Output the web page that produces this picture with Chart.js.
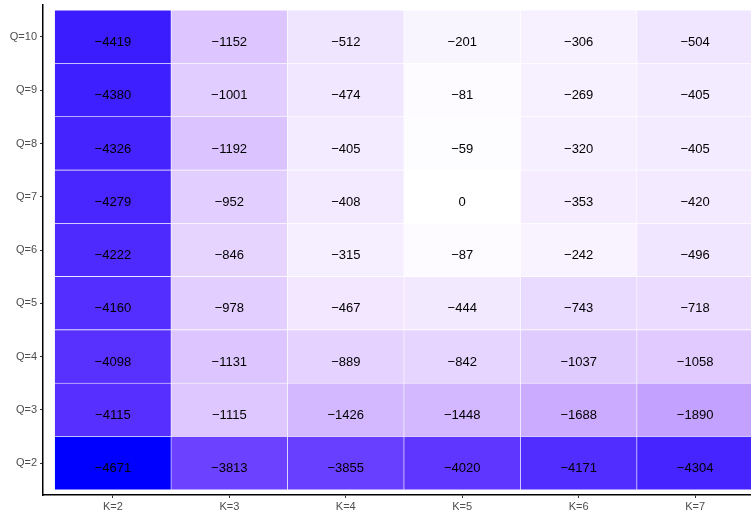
<!DOCTYPE html>
<html>
<head>
<meta charset="utf-8">
<script src="https://cdn.jsdelivr.net/npm/chart.js@4"></script>
<style>
  html, body { margin: 0; padding: 0; background: #fff; overflow: hidden; }
  #wrap { width: 765px; height: 510px; }
</style>
</head>
<body>
<div id="wrap"><canvas id="heat"></canvas></div>
<script>
// columns and rows
const kValues = [2, 3, 4, 5, 6, 7];
const qValues = [2, 3, 4, 5, 6, 7, 8, 9, 10];

// one row per Q, values for K=2..7
const rowQ2  = [-4671, -3813, -3855, -4020, -4171, -4304];
const rowQ3  = [-4115, -1115, -1426, -1448, -1688, -1890];
const rowQ4  = [-4098, -1131, -889, -842, -1037, -1058];
const rowQ5  = [-4160, -978, -467, -444, -743, -718];
const rowQ6  = [-4222, -846, -315, -87, -242, -496];
const rowQ7  = [-4279, -952, -408, 0, -353, -420];
const rowQ8  = [-4326, -1192, -405, -59, -320, -405];
const rowQ9  = [-4380, -1001, -474, -81, -269, -405];
const rowQ10 = [-4419, -1152, -512, -201, -306, -504];

const rows = [rowQ2, rowQ3, rowQ4, rowQ5, rowQ6, rowQ7, rowQ8, rowQ9, rowQ10];

const lowest = Math.min(...rows.flat());

// white -> blue, blended in Lab like ggplot does
function labToRgb(L, a, b) {
    const fy = (L + 16) / 116, fx = fy + a / 500, fz = fy - b / 200;
    const inv = t => t > 6 / 29 ? t * t * t : 3 * (6 / 29) * (6 / 29) * (t - 4 / 29);
    const X = 0.95047 * inv(fx), Y = inv(fy), Z = 1.08883 * inv(fz);
    const lin = [
        3.2406 * X - 1.5372 * Y - 0.4986 * Z,
        -0.9689 * X + 1.8758 * Y + 0.0415 * Z,
        0.0557 * X - 0.2040 * Y + 1.0570 * Z
    ];
    return lin.map(c => {
        c = Math.min(1, Math.max(0, c));
        c = c <= 0.0031308 ? 12.92 * c : 1.055 * Math.pow(c, 1 / 2.4) - 0.055;
        return Math.round(c * 255);
    });
}

function fillFor(v) {
    const t = v / lowest;
    const rgb = labToRgb(100 + (32.30 - 100) * t, 79.19 * t, -107.86 * t);
    return 'rgb(' + rgb.join(',') + ')';
}

const fmt = v => v < 0 ? '\u2212' + Math.abs(v) : String(v);

const datasets = rows.map((row, i) => {
    const q = qValues[i];
    return {
        label: 'Q=' + q,
        data: kValues.map(k => ({ x: k, y: [q - 0.5, q + 0.5] })),
        values: row,
        backgroundColor: row.map(fillFor),
        borderColor: '#ffffff',
        borderWidth: 0.6,
        borderSkipped: false,
        grouped: false,
        barPercentage: 1,
        categoryPercentage: 1
    };
});

// value labels sit a little below the cell centre, as in the original
const cellText = {
    id: 'cellText',
    afterDatasetsDraw(chart) {
        const ctx = chart.ctx;
        ctx.save();
        ctx.font = '13px "Liberation Sans", Arial, sans-serif';
        ctx.fillStyle = '#000';
        ctx.textAlign = 'center';
        ctx.textBaseline = 'middle';
        chart.data.datasets.forEach((ds, di) => {
            chart.getDatasetMeta(di).data.forEach((bar, i) => {
                const p = bar.getCenterPoint();
                ctx.fillText(fmt(ds.values[i]), p.x, p.y + 5.5);
            });
        });
        ctx.restore();
    }
};

const tickFont = { family: '"Liberation Sans", Arial, sans-serif', size: 11 };

new Chart('heat', {
    type: 'bar',
    data: { datasets },
    plugins: [cellText],
    options: {
        responsive: true,
        maintainAspectRatio: false,
        animation: false,
        layout: { padding: { top: 5, left: 0, right: 0, bottom: 0 } },
        plugins: { legend: { display: false }, tooltip: { enabled: false } },
        scales: {
            x: {
                type: 'linear',
                offset: false,
                min: 1.4,
                max: 7.6,
                afterBuildTicks: s => { s.ticks = kValues.map(v => ({ value: v })); },
                afterFit: s => { s.height = 15; s.paddingLeft = 0; s.paddingRight = 0; },
                ticks: { callback: v => 'K=' + v, color: '#4d4d4d', font: tickFont, padding: 2, maxRotation: 0 },
                grid: { display: true, offset: false, drawOnChartArea: false, drawTicks: true, tickLength: 3, color: '#333' },
                border: { display: true, color: '#000', width: 1.5 }
            },
            y: {
                type: 'linear',
                min: 1.4,
                max: 10.6,
                afterBuildTicks: s => { s.ticks = qValues.map(v => ({ value: v })); },
                afterFit: s => { s.width = 43; s.paddingTop = 0; s.paddingBottom = 0; },
                ticks: { callback: v => 'Q=' + v, color: '#4d4d4d', font: tickFont, padding: 3 },
                grid: { display: true, drawOnChartArea: false, drawTicks: true, tickLength: 3, color: '#333' },
                border: { display: true, color: '#000', width: 1.5 }
            }
        }
    }
});
</script>
</body>
</html>
